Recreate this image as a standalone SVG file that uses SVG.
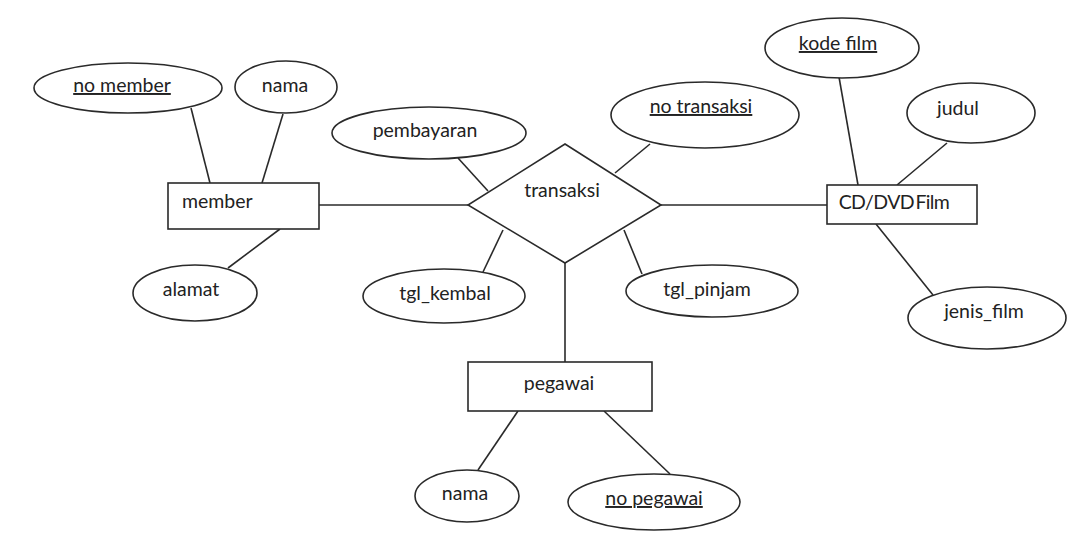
<svg xmlns="http://www.w3.org/2000/svg" width="1085" height="548" viewBox="0 0 1085 548">
<style>
.s{fill:#fff;stroke:#2a2a2a;stroke-width:1.6}
.c line{stroke:#2a2a2a;stroke-width:1.6}
text{font-family:Lato,"Open Sans",sans-serif;font-size:19.5px;fill:#222;text-anchor:middle}
.u{text-decoration:underline}
</style>
<rect width="1085" height="548" fill="#fff"/>
<g class="c" id="connectors">
<line x1="191" y1="108" x2="210" y2="183"/>
<line x1="283" y1="114" x2="262" y2="183"/>
<line x1="280" y1="229" x2="228" y2="268"/>
<line x1="319" y1="205" x2="468" y2="205"/>
<line x1="458" y1="158" x2="488" y2="191"/>
<line x1="650" y1="144" x2="615" y2="173"/>
<line x1="503" y1="230" x2="483" y2="272"/>
<line x1="624" y1="230" x2="642" y2="274"/>
<line x1="661" y1="205" x2="827" y2="205"/>
<line x1="565" y1="263" x2="565" y2="362"/>
<line x1="839" y1="77" x2="858" y2="185"/>
<line x1="947" y1="143" x2="897" y2="185"/>
<line x1="876" y1="224" x2="933" y2="295"/>
<line x1="518" y1="411" x2="478" y2="470"/>
<line x1="604" y1="411" x2="670" y2="474"/>
</g>
<g id="member"><rect class="s" x="168" y="183" width="151" height="46"/><text x="182" y="208" style="text-anchor:start">member</text></g>
<g id="no_member"><ellipse class="s" cx="128" cy="88" rx="94" ry="25"/><text class="u" x="122" y="92">no member</text></g>
<g id="nama_member"><ellipse class="s" cx="286" cy="87" rx="51" ry="26"/><text x="285" y="92">nama</text></g>
<g id="alamat"><ellipse class="s" cx="195" cy="293" rx="62" ry="28"/><text x="191" y="296">alamat</text></g>
<g id="transaksi"><polygon class="s" points="565,144 661,205 565,263 468,205"/><text x="562" y="197">transaksi</text></g>
<g id="pembayaran"><ellipse class="s" cx="429" cy="133" rx="97" ry="26"/><text x="425" y="137">pembayaran</text></g>
<g id="no_transaksi"><ellipse class="s" cx="705" cy="115" rx="94" ry="33"/><text class="u" x="701" y="113">no transaksi</text></g>
<g id="tgl_kembal"><ellipse class="s" cx="444" cy="296" rx="81" ry="27"/><text x="445" y="300">tgl_kembal</text></g>
<g id="tgl_pinjam"><ellipse class="s" cx="712" cy="291" rx="86" ry="26"/><text x="707" y="296">tgl_pinjam</text></g>
<g id="film"><rect class="s" x="827" y="185" width="150" height="39"/><text x="894" y="209" style="letter-spacing:-0.6px;word-spacing:-3px">CD/DVD Film</text></g>
<g id="kode_film"><ellipse class="s" cx="842" cy="48" rx="77" ry="30"/><text class="u" x="838" y="50">kode film</text></g>
<g id="judul"><ellipse class="s" cx="971" cy="113" rx="64" ry="30"/><text x="958" y="115">judul</text></g>
<g id="jenis_film"><ellipse class="s" cx="987" cy="318" rx="79" ry="31"/><text x="984" y="318">jenis_film</text></g>
<g id="pegawai"><rect class="s" x="468" y="362" width="184" height="49"/><text x="559" y="390">pegawai</text></g>
<g id="nama_pegawai"><ellipse class="s" cx="467" cy="496" rx="52" ry="26"/><text x="465" y="500">nama</text></g>
<g id="no_pegawai"><ellipse class="s" cx="654" cy="502" rx="86" ry="28"/><text class="u" x="654" y="505">no pegawai</text></g>
</svg>
